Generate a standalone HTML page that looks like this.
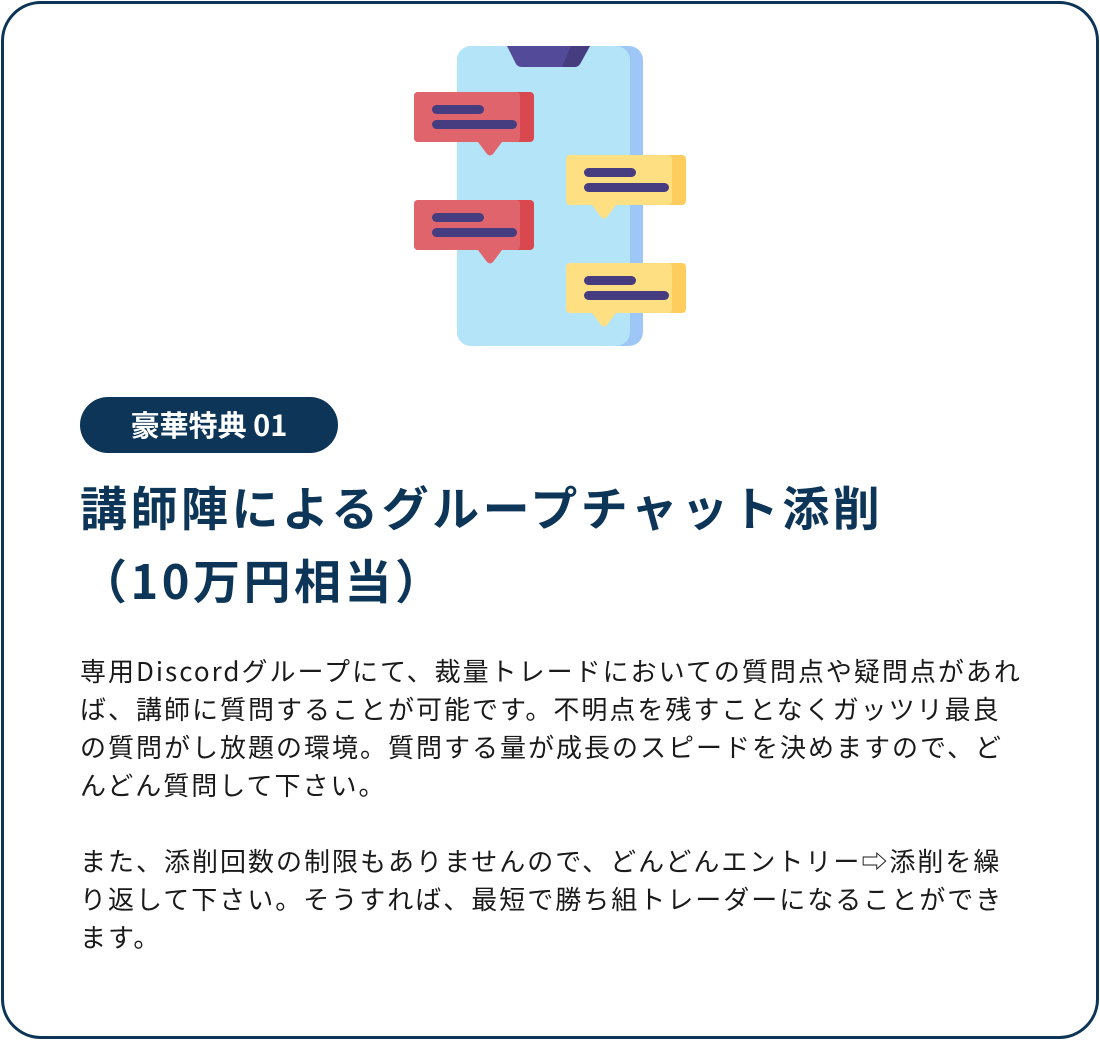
<!DOCTYPE html>
<html><head><meta charset="utf-8">
<style>
html,body{margin:0;padding:0;background:#fff;}
body{width:1100px;height:1040px;position:relative;overflow:hidden;font-family:"Liberation Sans","Noto Sans CJK JP",sans-serif;}
.card{position:absolute;left:1px;top:1px;width:1092px;height:1032px;border:3px solid #0d3557;border-radius:40px;}
.badge{position:absolute;left:80px;top:397px;width:258px;height:56px;border-radius:28px;background:#0d3557;color:#fff;font-weight:bold;font-size:29px;line-height:54px;text-align:center;font-family:"Noto Sans CJK JP",sans-serif;}
.title{position:absolute;left:80px;top:469px;color:#0d3557;font-weight:bold;font-size:47px;letter-spacing:3.5px;line-height:73px;white-space:nowrap;font-family:"Noto Sans CJK JP",sans-serif;}
.body{position:absolute;left:80px;top:652px;color:#1a1a1a;font-size:26px;letter-spacing:2px;line-height:38px;white-space:nowrap;font-family:"Noto Sans CJK JP",sans-serif;}
</style></head><body>
<div class="card"></div>
<svg style="position:absolute;left:0;top:0" width="1100" height="400">
  <rect x="457" y="46" width="186" height="300" rx="14" fill="#9ec7f7"/>
  <rect x="457" y="46" width="173" height="300" rx="14" fill="#b3e4f7"/>
  <path d="M507 46 L590 46 L580 64 Q578 67 574 67 L522 67 Q518 67 516 64 Z" fill="#534b9a"/>
  <path d="M571 46 L590 46 L580 64 Q578 67 574 67 L562 67 Z" fill="#463d80"/>
  <g>
    <rect x="414" y="92" width="120" height="50" rx="4" fill="#d9474f"/>
    <rect x="414" y="92" width="106" height="50" rx="4" fill="#e0646b"/>
    <path d="M478 142 L502 142 L493 154 Q490 157 487 154 Z" fill="#e0646b"/>
    <rect x="432" y="105" width="52" height="9" rx="4.5" fill="#463d80"/>
    <rect x="432" y="120" width="85" height="9" rx="4.5" fill="#463d80"/>
  </g>
  <g transform="translate(0,108)">
    <rect x="414" y="92" width="120" height="50" rx="4" fill="#d9474f"/>
    <rect x="414" y="92" width="106" height="50" rx="4" fill="#e0646b"/>
    <path d="M478 142 L502 142 L493 154 Q490 157 487 154 Z" fill="#e0646b"/>
    <rect x="432" y="105" width="52" height="9" rx="4.5" fill="#463d80"/>
    <rect x="432" y="120" width="85" height="9" rx="4.5" fill="#463d80"/>
  </g>
  <g transform="translate(152,63)">
    <rect x="414" y="92" width="120" height="50" rx="4" fill="#fecd5e"/>
    <rect x="414" y="92" width="106" height="50" rx="4" fill="#fedf82"/>
    <path d="M440 142 L464 142 L455 154 Q452 157 449 154 Z" fill="#fedf82"/>
    <rect x="432" y="105" width="52" height="9" rx="4.5" fill="#463d80"/>
    <rect x="432" y="120" width="85" height="9" rx="4.5" fill="#463d80"/>
  </g>
  <g transform="translate(152,171)">
    <rect x="414" y="92" width="120" height="50" rx="4" fill="#fecd5e"/>
    <rect x="414" y="92" width="106" height="50" rx="4" fill="#fedf82"/>
    <path d="M440 142 L464 142 L455 154 Q452 157 449 154 Z" fill="#fedf82"/>
    <rect x="432" y="105" width="52" height="9" rx="4.5" fill="#463d80"/>
    <rect x="432" y="120" width="85" height="9" rx="4.5" fill="#463d80"/>
  </g>
</svg>
<div class="badge">豪華特典 01</div>
<div class="title">講師陣によるグループチャット添削<br>（10万円相当）</div>
<div class="body">専用Discordグループにて、裁量トレードにおいての質問点や疑問点があれ<br>ば、講師に質問することが可能です。不明点を残すことなくガッツリ最良<br>の質問がし放題の環境。質問する量が成長のスピードを決めますので、ど<br>んどん質問して下さい。<br><br>また、添削回数の制限もありませんので、どんどんエントリー⇨添削を繰<br>り返して下さい。そうすれば、最短で勝ち組トレーダーになることができ<br>ます。</div>
</body></html>
